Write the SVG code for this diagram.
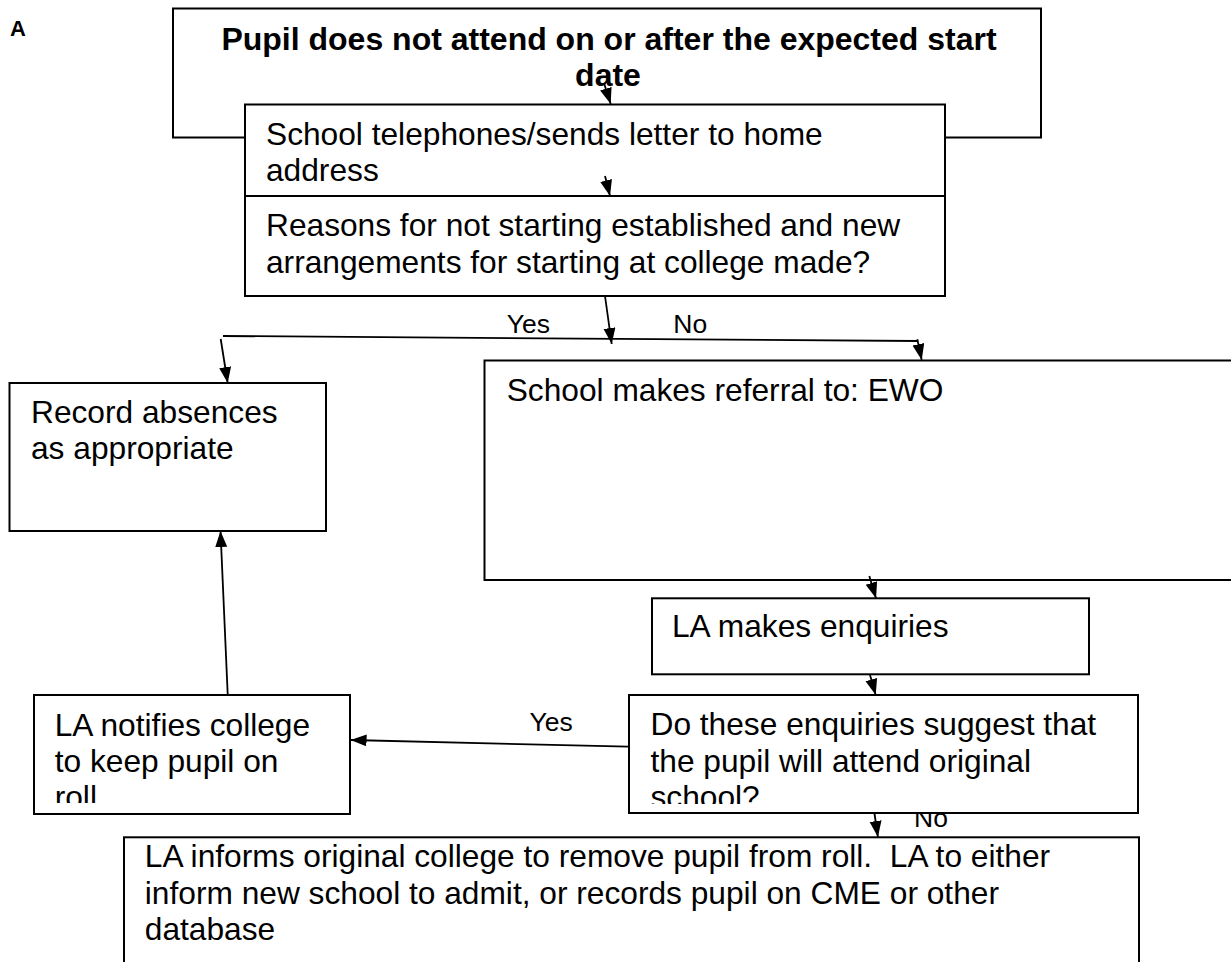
<svg xmlns="http://www.w3.org/2000/svg" width="1231" height="962" viewBox="0 0 1231 962">
<style>
  .box { fill: #ffffff; stroke: #000000; stroke-width: 2; }
  .t { font-family: "Liberation Sans", Arial, sans-serif; font-size: 31.7px; fill: #000000; }
  .tb { font-family: "Liberation Sans", Arial, sans-serif; font-size: 32px; font-weight: bold; fill: #000000; }
  .lbl { font-family: "Liberation Sans", Arial, sans-serif; font-size: 26.5px; fill: #000000; }
  .c { fill: none; stroke: #000000; stroke-width: 1.8; }
  .pre { white-space: pre; }
</style>
<defs>
  <marker id="ah" markerUnits="userSpaceOnUse" markerWidth="17" markerHeight="14" refX="16" refY="6" orient="auto">
    <path d="M0,0 L16,6 L0,12 Z" fill="#000000"/>
  </marker>
  <clipPath id="clipNotify"><rect x="35" y="696" width="314" height="107"/></clipPath>
  <clipPath id="clipDo"><rect x="630" y="696" width="508" height="108"/></clipPath>
</defs>
<rect width="1231" height="962" fill="#ffffff"/>

<text x="10" y="36" font-family="Liberation Sans, Arial, sans-serif" font-size="22" font-weight="bold">A</text>

<g id="start">
  <rect class="box" x="173" y="8.5" width="868" height="129"/>
  <text class="tb" x="609" y="49.5" text-anchor="middle">Pupil does not attend on or after the expected start</text>
  <text class="tb" x="608" y="85.5" text-anchor="middle">date</text>
</g>

<g id="telephone">
  <rect class="box" x="245" y="104.5" width="700" height="91.5"/>
  <text class="t" x="266" y="145">School telephones/sends letter to home</text>
  <text class="t" x="266" y="181">address</text>
</g>

<g id="reasons">
  <rect class="box" x="245" y="196" width="700" height="100"/>
  <text class="t" x="266" y="236">Reasons for not starting established and new</text>
  <text class="t" x="266" y="272.5">arrangements for starting at college made?</text>
</g>

<g id="record">
  <rect class="box" x="9.5" y="383" width="316.5" height="148"/>
  <text class="t" x="31" y="422.7">Record absences</text>
  <text class="t" x="31" y="459.3">as appropriate</text>
</g>

<g id="referral">
  <rect class="box" x="484.5" y="360.5" width="760" height="219.5"/>
  <text class="t" x="506.7" y="400.5">School makes referral to: EWO</text>
</g>

<g id="enquiries">
  <rect class="box" x="652" y="598.3" width="437" height="76"/>
  <text class="t" x="672" y="636.7">LA makes enquiries</text>
</g>

<g id="notify">
  <rect class="box" x="34" y="695" width="316" height="119"/>
  <g clip-path="url(#clipNotify)">
    <text class="t" x="54.7" y="736">LA notifies college</text>
    <text class="t" x="54.7" y="771.7">to keep pupil on</text>
    <text class="t" x="54.7" y="808">roll</text>
  </g>
</g>

<g id="labels">
  <text class="lbl" x="506.7" y="333.3">Yes</text>
  <text class="lbl" x="673.3" y="333.3">No</text>
  <text class="lbl" x="529.5" y="730.7">Yes</text>
  <text class="lbl" x="914" y="826.7">No</text>
</g>

<g id="suggest">
  <rect class="box" x="629" y="695" width="509" height="118"/>
  <g clip-path="url(#clipDo)">
    <text class="t" x="650.5" y="735">Do these enquiries suggest that</text>
    <text class="t" x="650.5" y="771.7">the pupil will attend original</text>
    <text class="t" x="650.5" y="808">school?</text>
  </g>
</g>

<g id="remove">
  <rect class="box" x="124" y="837.3" width="1015" height="140"/>
  <text class="t pre" x="144.8" y="867.3">LA informs original college to remove pupil from roll.  LA to either</text>
  <text class="t" x="144.8" y="903.6">inform new school to admit, or records pupil on CME or other</text>
  <text class="t" x="144.8" y="940">database</text>
</g>

<g id="connectors">
  <line class="c" x1="604.3" y1="84" x2="610.7" y2="104" marker-end="url(#ah)"/>
  <line class="c" x1="605" y1="176" x2="610" y2="196" marker-end="url(#ah)"/>
  <line class="c" x1="605" y1="296" x2="611.7" y2="344" marker-end="url(#ah)"/>
  <line class="c" x1="223" y1="336" x2="918" y2="341"/>
  <line class="c" x1="220.7" y1="339" x2="227.7" y2="383" marker-end="url(#ah)"/>
  <line class="c" x1="917.3" y1="339.3" x2="921.7" y2="360" marker-end="url(#ah)"/>
  <line class="c" x1="869.3" y1="576" x2="876" y2="598.3" marker-end="url(#ah)"/>
  <line class="c" x1="870" y1="675" x2="875.7" y2="695" marker-end="url(#ah)"/>
  <line class="c" x1="628.4" y1="746.7" x2="350.6" y2="740" marker-end="url(#ah)"/>
  <line class="c" x1="227.7" y1="694.3" x2="220.5" y2="531" marker-end="url(#ah)"/>
  <line class="c" x1="874.4" y1="813" x2="877.9" y2="837" marker-end="url(#ah)"/>
</g>
</svg>
